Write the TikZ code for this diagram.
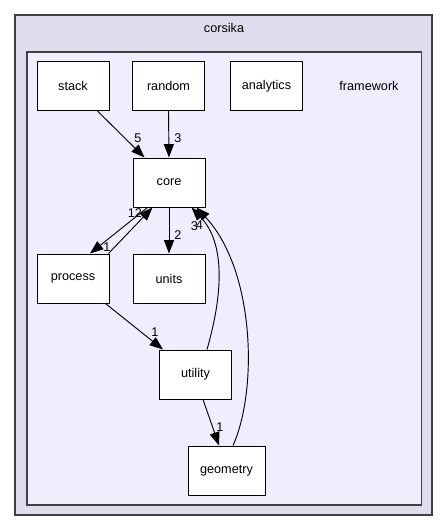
\documentclass[tikz,border=0pt]{standalone}
\usepackage{fontspec}
\setmainfont{Liberation Sans}
\usetikzlibrary{arrows.meta,calc}
\definecolor{outerfill}{HTML}{DDDDEE}
\definecolor{innerfill}{HTML}{EEEEFF}
\definecolor{clusterline}{HTML}{404040}
\tikzset{
  px/.style={x=0.75pt,y=-0.75pt},
  dirbox/.style={draw=black,fill=white,line width=0.75pt,minimum width=54pt,minimum height=36.75pt,inner sep=0pt,font=\fontsize{9.5}{11}\selectfont},
  dep/.style={draw=black,line width=0.7pt,-{Triangle[length=10pt,width=7.5pt]}},
  elabel/.style={font=\fontsize{9.5}{11}\selectfont,inner sep=0pt},
  cluster/.style={draw=clusterline,line width=1pt}
}
\begin{document}
\begin{tikzpicture}[px]
\useasboundingbox (0,0) rectangle (448,532);
\fill[white] (0,0) rectangle (448,532);
\draw[cluster,fill=outerfill] (15,15) rectangle (432,515);
\node[elabel] (corsika) at (224,28) {corsika};
\draw[cluster,fill=innerfill] (27,52) rectangle (421.5,505);
\node[elabel] (framework) at (369,86) {framework};

\node[dirbox] (stack) at (73,86) {stack};
\node[dirbox] (random) at (168.5,86) {random};
\node[dirbox] (analytics) at (266.5,86) {analytics};
\node[dirbox] (core) at (169,182.5) {core};
\node[dirbox] (process) at (73,278.5) {process};
\node[dirbox] (units) at (169,278.5) {units};
\node[dirbox] (utility) at (195.5,374.5) {utility};
\node[dirbox,minimum width=57.75pt] (geometry) at (226.5,470.5) {geometry};

\draw[dep] ($(stack.south east)+(-12,0)$) -- ($(core.north west)+(12,0)$);
\node[elabel] (l5) at (138,138) {5};
\draw[dep] (random.south) -- (core.north);
\node[elabel] (l3a) at (178,138) {3};
\draw[dep] ($(core.south west)+(15,0)$) -- ($(process.north)+(17,0)$);
\node[elabel] (l1a) at (107,247) {1};
\draw[dep] ($(process.north east)+(-1,0)$) -- ($(core.south west)+(20,0)$);
\node[elabel] (l12) at (135,213) {12};
\draw[dep] (core.south) -- (units.north);
\node[elabel] (l2) at (178,235) {2};
\draw[dep] ($(utility.north east)+(-25,0)$) .. controls (216,318) and (232,250) .. ($(core.south east)+(-14,0)$);
\draw[dep] ($(geometry.north)+(6.5,0)$) .. controls (258,390) and (255,270) .. ($(core.south east)+(-9,0)$);
\node[elabel] (l3b) at (194.5,226) {3};
\node[elabel] (l4) at (199.5,225) {4};
\draw[dep] ($(process.south east)+(-4,0)$) -- ($(utility.north west)+(4,0)$);
\node[elabel] (l1b) at (155,332) {1};
\draw[dep] ($(utility.south)+(7.5,0)$) -- ($(geometry.north)+(-7.5,0)$);
\node[elabel] (l1c) at (220,427) {1};
\end{tikzpicture}
\end{document}
